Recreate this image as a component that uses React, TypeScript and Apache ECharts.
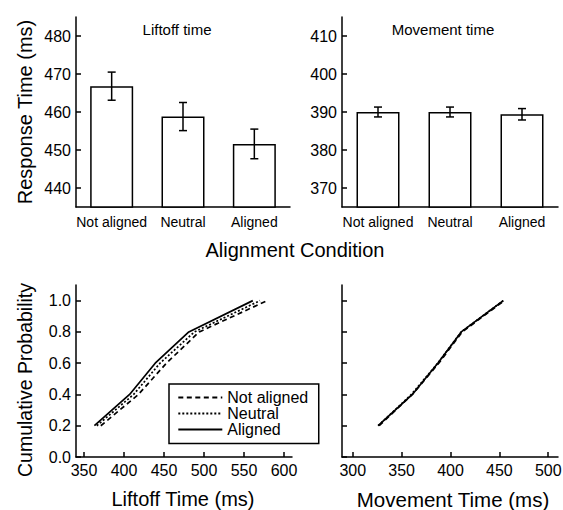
import React, { useEffect, useRef } from "react";
import * as echarts from "echarts";

const FONT = "'Liberation Sans', Arial, Helvetica, sans-serif";

// Top panels: mean response times with error bars
const conditions = ["Not aligned", "Neutral", "Aligned"];
const liftoffMeans = [466.8, 458.8, 451.6];
const liftoffErrors = [3.7, 3.7, 3.9];
const movementMeans = [390.0, 390.0, 389.4];
const movementErrors = [1.3, 1.3, 1.5];
const liftoffTicks = [440, 450, 460, 470, 480];
const movementTicks = [370, 380, 390, 400, 410];

// Bottom panels: cumulative distributions (quintiles)
const quantiles = [0.2, 0.4, 0.6, 0.8, 1.0];
const liftoffNotAligned = [371, 418, 453, 494, 579];
const liftoffNeutral = [366, 412, 445, 488, 570];
const liftoffAligned = [363, 407, 439, 481, 561];
const movementNotAligned = [327, 361, 388, 412, 455];
const movementNeutral = [326, 360, 387, 411, 454];
const movementAligned = [326, 361, 387, 411, 454];
const probTicks = [0, 0.2, 0.4, 0.6, 0.8, 1.0];
const liftoffXTicks = [350, 400, 450, 500, 550, 600];
const movementXTicks = [300, 350, 400, 450, 500];

const seriesNames = ["Not aligned", "Neutral", "Aligned"];
const dashStyles: any[] = [[5, 3.5], [2, 2], "solid"];

const axisLineStyle = { color: "#000", width: 1.5 };
const labelStyle = { color: "#000", fontSize: 16, fontFamily: FONT };

function errorRender(params: any, api: any) {
  const x = api.value(0);
  const lo = api.coord([x, api.value(1)]);
  const hi = api.coord([x, api.value(2)]);
  const half = 4;
  const st = { stroke: "#000", lineWidth: 1.5 };
  return {
    type: "group",
    children: [
      { type: "line", shape: { x1: hi[0], y1: hi[1], x2: lo[0], y2: lo[1] }, style: st },
      { type: "line", shape: { x1: hi[0] - half, y1: hi[1], x2: hi[0] + half, y2: hi[1] }, style: st },
      { type: "line", shape: { x1: lo[0] - half, y1: lo[1], x2: lo[0] + half, y2: lo[1] }, style: st },
    ],
  };
}

function valueYAxis(gridIndex: number, min: number, max: number, ticks: number[], showLabels: boolean, fmt?: (v: number) => string) {
  return {
    type: "value",
    gridIndex,
    min,
    max,
    splitLine: { show: false },
    axisLine: { show: true, onZero: false, lineStyle: axisLineStyle },
    axisTick: { show: true, inside: true, length: 5, lineStyle: axisLineStyle, customValues: ticks },
    axisLabel: {
      show: showLabels,
      margin: 5,
      ...labelStyle,
      customValues: ticks,
      formatter: fmt ? (v: number) => fmt(v) : (v: number) => String(v),
    },
  };
}

function valueXAxis(gridIndex: number, min: number, max: number, ticks: number[]) {
  return {
    type: "value",
    gridIndex,
    min,
    max,
    splitLine: { show: false },
    axisLine: { show: true, onZero: false, lineStyle: axisLineStyle },
    axisTick: { show: true, inside: true, length: 5, lineStyle: axisLineStyle, customValues: ticks },
    axisLabel: { margin: 5, ...labelStyle, customValues: ticks },
  };
}

function catXAxis(gridIndex: number) {
  return {
    type: "category",
    gridIndex,
    data: conditions,
    axisLine: { show: true, onZero: false, lineStyle: axisLineStyle },
    axisTick: { show: false },
    axisLabel: { margin: 8, color: "#000", fontSize: 14, fontFamily: FONT, interval: 0 },
  };
}

function barSeries(idx: number, means: number[]) {
  return {
    type: "bar",
    xAxisIndex: idx,
    yAxisIndex: idx,
    data: means,
    barWidth: 43,
    itemStyle: { color: "#fff", borderColor: "#000", borderWidth: 1.5 },
    z: 2,
  };
}

function errSeries(idx: number, means: number[], errs: number[]) {
  return {
    type: "custom",
    xAxisIndex: idx,
    yAxisIndex: idx,
    data: means.map((m, i) => [i, m - errs[i], m + errs[i]]),
    encode: { x: 0, y: [1, 2] },
    renderItem: errorRender,
    z: 3,
  };
}

function cdfSeries(idx: number, name: string, xs: number[], styleIdx: number) {
  return {
    type: "line",
    name,
    xAxisIndex: idx,
    yAxisIndex: idx,
    data: xs.map((x, i) => [x, quantiles[i]]),
    symbol: "none",
    lineStyle: { color: "#000", width: 1.7, type: dashStyles[styleIdx] },
    itemStyle: { color: "#000" },
    z: 2,
  };
}

function txt(text: string, x: number, y: number, size: number, rot = 0) {
  return {
    type: "text",
    x,
    y,
    rotation: rot,
    style: { text, fill: "#000", fontSize: size, fontFamily: FONT, align: "center", verticalAlign: "middle" },
  };
}

export default function App() {
  const ref = useRef<HTMLDivElement>(null);
  useEffect(() => {
    if (!ref.current) return;
    const chart = echarts.init(ref.current, undefined, { renderer: "svg" });
    const option: any = {
      animation: false,
      backgroundColor: "#fff",
      textStyle: { fontFamily: FONT },
      grid: [
        { left: 76, top: 17, width: 214, height: 190, outerBoundsMode: "none", containLabel: false },
        { left: 342, top: 17, width: 216, height: 190, outerBoundsMode: "none", containLabel: false },
        { left: 76, top: 285, width: 216, height: 172, outerBoundsMode: "none", containLabel: false },
        { left: 342, top: 285, width: 216, height: 172, outerBoundsMode: "none", containLabel: false },
      ],
      xAxis: [
        catXAxis(0),
        catXAxis(1),
        valueXAxis(2, 340, 610, liftoffXTicks),
        valueXAxis(3, 289, 510, movementXTicks),
      ],
      yAxis: [
        valueYAxis(0, 435, 485, liftoffTicks, true),
        valueYAxis(1, 365, 415, movementTicks, true),
        valueYAxis(2, 0, 1.1, probTicks, true, (v) => v.toFixed(1)),
        valueYAxis(3, 0, 1.1, probTicks, false),
      ],
      legend: {
        data: seriesNames,
        orient: "vertical",
        left: 169,
        top: 384,
        padding: [5.5, 10.5, 6, 8.3],
        itemWidth: 44,
        itemHeight: 16,
        itemGap: 0,
        borderColor: "#000",
        borderWidth: 1.5,
        backgroundColor: "#fff",
        selectedMode: false,
        itemStyle: { opacity: 0 },
        textStyle: { color: "#000", fontSize: 16, fontFamily: FONT, lineHeight: 16 },
      },
      series: [
        barSeries(0, liftoffMeans),
        errSeries(0, liftoffMeans, liftoffErrors),
        barSeries(1, movementMeans),
        errSeries(1, movementMeans, movementErrors),
        cdfSeries(2, seriesNames[0], liftoffNotAligned, 0),
        cdfSeries(2, seriesNames[1], liftoffNeutral, 1),
        cdfSeries(2, seriesNames[2], liftoffAligned, 2),
        cdfSeries(3, seriesNames[0], movementNotAligned, 0),
        cdfSeries(3, seriesNames[1], movementNeutral, 1),
        cdfSeries(3, seriesNames[2], movementAligned, 2),
      ],
      graphic: [
        txt("Liftoff time", 177, 29.5, 15),
        txt("Movement time", 443, 29.5, 15),
        txt("Response Time (ms)", 25, 112, 20, Math.PI / 2),
        txt("Alignment Condition", 295, 250, 20),
        txt("Cumulative Probability", 25, 380, 19.5, Math.PI / 2),
        txt("Liftoff Time (ms)", 183, 499, 20),
        txt("Movement Time (ms)", 453, 499, 20.5),
      ],
    };
    chart.setOption(option);
    return () => chart.dispose();
  }, []);
  return (
    <div
      ref={ref}
      style={{ position: "fixed", left: 0, top: 0, width: 563, height: 510, background: "#fff" }}
    />
  );
}
